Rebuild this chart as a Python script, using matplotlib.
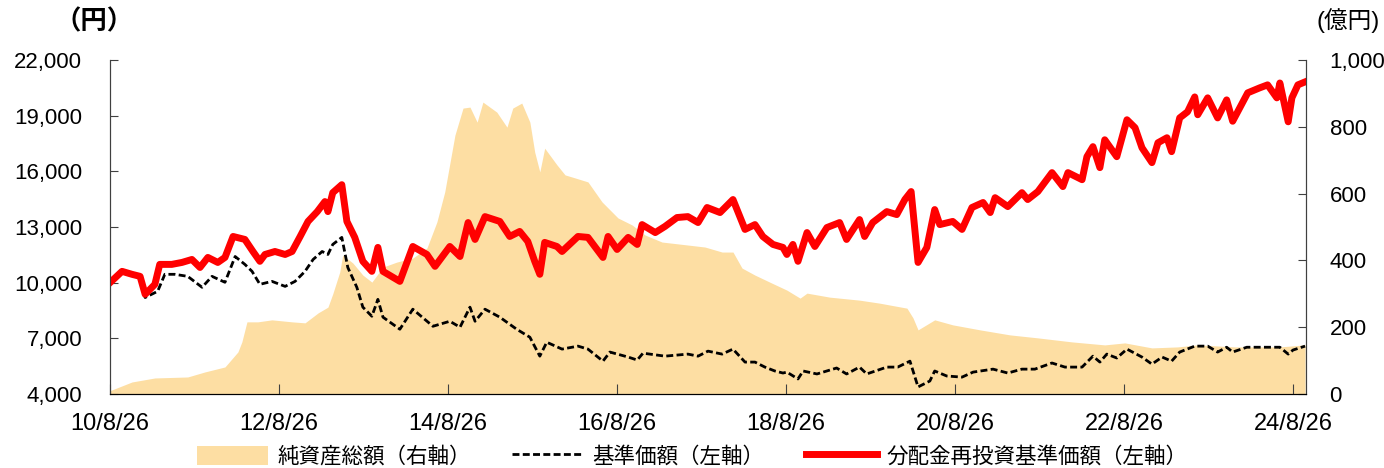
import numpy as np
import pandas as pd
import matplotlib
matplotlib.use("Agg")
import matplotlib.pyplot as plt
import matplotlib.dates as mdates
from matplotlib.patches import Patch
from matplotlib.lines import Line2D

plt.rcParams['font.family'] = ['Liberation Sans', 'Noto Sans CJK JP']

# 分配金再投資基準価額 (左軸, 円)
reinv_dates = [
    "2010-08-26", "2010-10-17", "2010-11-29", "2011-01-03", "2011-01-25", "2011-03-08",
    "2011-03-29", "2011-05-20", "2011-07-03", "2011-08-15", "2011-09-19", "2011-10-23",
    "2011-12-05", "2012-01-05", "2012-02-09", "2012-03-31", "2012-05-05", "2012-06-04",
    "2012-06-26", "2012-08-08", "2012-09-21", "2012-10-21", "2012-11-25", "2012-12-29",
    "2013-02-07", "2013-03-12", "2013-03-25", "2013-04-15", "2013-05-24", "2013-06-15",
    "2013-07-19", "2013-08-23", "2013-10-01", "2013-10-27", "2013-11-18", "2014-01-30",
    "2014-03-27", "2014-05-27", "2014-07-01", "2014-09-03", "2014-10-17", "2014-11-21",
    "2014-12-21", "2015-02-02", "2015-04-07", "2015-05-20", "2015-07-02", "2015-08-06",
    "2015-09-05", "2015-09-27", "2015-10-18", "2015-12-10", "2016-01-01", "2016-03-10",
    "2016-04-22", "2016-06-26", "2016-07-18", "2016-08-26", "2016-10-13", "2016-11-21",
    "2016-12-12", "2017-02-07", "2017-03-21", "2017-05-12", "2017-06-28", "2017-08-11",
    "2017-09-19", "2017-11-14", "2018-01-09", "2018-03-02", "2018-04-14", "2018-05-18",
    "2018-07-01", "2018-08-13", "2018-08-30", "2018-09-25", "2018-10-17", "2018-11-25",
    "2018-12-29", "2019-02-19", "2019-04-15", "2019-05-15", "2019-07-10", "2019-08-01",
    "2019-09-05", "2019-11-05", "2019-12-18", "2020-01-22", "2020-02-18", "2020-03-19",
    "2020-04-26", "2020-05-30", "2020-06-21", "2020-08-16", "2020-09-25", "2020-11-07",
    "2020-12-25", "2021-01-25", "2021-02-15", "2021-04-11", "2021-06-11", "2021-07-06",
    "2021-08-19", "2021-10-19", "2021-12-05", "2021-12-27", "2022-02-26", "2022-03-19",
    "2022-04-14", "2022-05-14", "2022-06-04", "2022-07-26", "2022-09-08", "2022-10-13",
    "2022-11-12", "2022-12-25", "2023-01-20", "2023-02-28", "2023-03-20", "2023-04-24",
    "2023-05-28", "2023-06-28", "2023-07-11", "2023-08-23", "2023-10-05", "2023-11-13",
    "2023-12-09", "2024-02-12", "2024-04-04", "2024-05-08", "2024-06-17", "2024-06-30",
    "2024-08-05", "2024-08-21", "2024-09-16", "2024-10-17",
]
reinv_nav = [
    10000, 10610, 10450, 10340, 9370, 9910,
    10985, 10985, 11090, 11250, 10820, 11360,
    11090, 11360, 12490, 12330, 11680, 11150,
    11520, 11680, 11520, 11680, 12490, 13300,
    13830, 14370, 13830, 14850, 15280, 13300,
    12440, 11150, 10610, 11900, 10610, 10070,
    11950, 11520, 10880, 11950, 11410, 13240,
    12330, 13560, 13300, 12490, 12760, 12220,
    11150, 10450, 12170, 11950, 11680, 12490,
    12440, 11360, 12490, 11790, 12440, 12060,
    13130, 12700, 13030, 13510, 13560, 13240,
    14050, 13780, 14480, 12870, 13130, 12490,
    12060, 11900, 11520, 12060, 11150, 12700,
    11950, 12970, 13240, 12330, 13400, 12490,
    13240, 13830, 13670, 14480, 14910, 11090,
    11900, 13940, 13130, 13300, 12870, 14050,
    14320, 13780, 14580, 14100, 14850, 14480,
    14910, 15930, 15180, 15930, 15550, 16790,
    17330, 16200, 17700, 16790, 18780, 18350,
    17270, 16470, 17540, 17810, 17060, 18880,
    19210, 20010, 19050, 19960, 18880, 19850,
    18700, 20230, 20500, 20660, 19960, 20760,
    18670, 19960, 20660, 20820,
]

# 基準価額 (左軸, 円)
nav_dates = [
    "2010-08-26", "2010-10-17", "2010-11-29", "2011-01-03", "2011-01-25", "2011-03-20",
    "2011-04-20", "2011-06-02", "2011-07-28", "2011-09-28", "2011-11-10", "2012-01-05",
    "2012-02-18", "2012-03-31", "2012-05-01", "2012-06-04", "2012-07-26", "2012-09-21",
    "2012-11-03", "2012-12-16", "2013-01-20", "2013-02-28", "2013-03-25", "2013-04-15",
    "2013-05-24", "2013-06-19", "2013-07-28", "2013-08-23", "2013-10-01", "2013-10-27",
    "2013-11-18", "2014-01-30", "2014-03-27", "2014-06-22", "2014-09-03", "2014-10-17",
    "2014-11-29", "2014-12-21", "2015-02-02", "2015-04-07", "2015-06-19", "2015-08-15",
    "2015-09-27", "2015-10-27", "2015-12-14", "2016-01-01", "2016-03-10", "2016-04-22",
    "2016-06-26", "2016-07-26", "2016-10-13", "2016-11-21", "2016-12-16", "2017-03-21",
    "2017-06-28", "2017-08-11", "2017-09-23", "2017-11-23", "2018-01-09", "2018-03-02",
    "2018-04-14", "2018-05-27", "2018-07-09", "2018-08-13", "2018-08-30", "2018-10-17",
    "2018-11-08", "2019-01-07", "2019-04-02", "2019-05-15", "2019-07-10", "2019-08-10",
    "2019-11-05", "2019-12-22", "2020-02-13", "2020-03-19", "2020-05-09", "2020-05-30",
    "2020-07-21", "2020-09-25", "2020-11-12", "2021-02-06", "2021-04-11", "2021-06-11",
    "2021-08-06", "2021-10-19", "2021-12-14", "2022-02-26", "2022-04-14", "2022-05-14",
    "2022-06-13", "2022-07-26", "2022-09-08", "2022-11-12", "2022-12-25", "2023-02-07",
    "2023-03-20", "2023-04-24", "2023-06-28", "2023-08-23", "2023-10-05", "2023-11-13",
    "2023-12-09", "2024-02-08", "2024-04-04", "2024-05-17", "2024-06-30", "2024-08-05",
    "2024-08-26", "2024-10-17",
]
nav = [
    10000, 10610, 10450, 10300, 9200, 9535,
    10450, 10450, 10340, 9750, 10340, 10020,
    11410, 10985, 10610, 9910, 10070, 9800,
    10070, 10610, 11250, 11680, 11520, 12060,
    12440, 10820, 9750, 8680, 8190, 9100,
    8140, 7490, 8570, 7650, 7920, 7600,
    8680, 7920, 8570, 8140, 7490, 7060,
    6040, 6790, 6520, 6420, 6580, 6420,
    5770, 6260, 5990, 5830, 6200, 6040,
    6150, 6040, 6310, 6150, 6420, 5720,
    5720, 5450, 5240, 5130, 5180, 4810,
    5240, 5080, 5400, 5080, 5450, 5080,
    5450, 5450, 5770, 4380, 4700, 5240,
    4970, 4910, 5180, 5340, 5130, 5340,
    5340, 5670, 5450, 5450, 6040, 5720,
    6150, 5940, 6420, 5990, 5610, 5990,
    5770, 6260, 6580, 6580, 6260, 6520,
    6260, 6520, 6520, 6520, 6520, 6150,
    6370, 6580,
]

# 純資産総額 (右軸, 億円)
aum_dates = [
    "2010-08-26", "2010-11-29", "2011-03-08", "2011-07-28", "2011-10-10", "2012-01-05",
    "2012-03-01", "2012-03-18", "2012-04-09", "2012-05-26", "2012-07-26", "2012-10-21",
    "2012-12-16", "2013-02-11", "2013-03-25", "2013-04-15", "2013-05-15", "2013-05-28",
    "2013-07-11", "2013-08-23", "2013-10-01", "2013-11-18", "2014-01-17", "2014-03-27",
    "2014-05-27", "2014-07-09", "2014-08-12", "2014-09-25", "2014-10-30", "2014-11-29",
    "2014-12-30", "2015-01-24", "2015-03-25", "2015-05-08", "2015-06-02", "2015-07-11",
    "2015-08-15", "2015-09-05", "2015-09-27", "2015-10-18", "2015-12-10", "2016-01-14",
    "2016-02-26", "2016-04-22", "2016-06-22", "2016-08-30", "2016-10-30", "2016-12-25",
    "2017-03-08", "2017-06-28", "2017-09-10", "2017-11-23", "2018-01-09", "2018-02-17",
    "2018-04-14", "2018-06-26", "2018-08-30", "2018-10-26", "2018-11-25", "2019-03-03",
    "2019-07-10", "2019-10-05", "2020-01-31", "2020-02-26", "2020-03-19", "2020-05-30",
    "2020-08-16", "2020-12-12", "2021-04-20", "2021-08-19", "2022-01-13", "2022-06-04",
    "2022-08-30", "2022-12-25", "2023-04-15", "2023-07-11", "2023-12-18", "2024-02-08",
    "2024-06-30", "2024-10-17",
]
aum = [
    10, 36, 48, 51, 66, 81,
    126, 156, 216, 216, 222, 216,
    213, 243, 260, 300, 365, 416,
    392, 356, 335, 380, 395, 407,
    437, 515, 605, 775, 856, 859,
    814, 874, 844, 799, 856, 871,
    814, 724, 665, 736, 686, 656,
    647, 635, 575, 527, 506, 476,
    455, 446, 440, 425, 425, 377,
    356, 332, 311, 287, 302, 290,
    281, 272, 257, 228, 192, 222,
    207, 192, 177, 168, 156, 147,
    153, 138, 141, 147, 141, 141,
    141, 147,
]

left_ticks = [4000, 7000, 10000, 13000, 16000, 19000, 22000]
right_ticks = [0, 200, 400, 600, 800, 1000]
x_ticks = ["2010-08-26", "2012-08-26", "2014-08-26", "2016-08-26",
           "2018-08-26", "2020-08-26", "2022-08-26", "2024-08-26"]

fig = plt.figure(figsize=(13.84, 4.68), dpi=100)
ax = fig.add_axes([110 / 1384, 1 - 394 / 468, 1196 / 1384, 334 / 468])
ax2 = ax.twinx()

area_color = '#FDDEA3'
ax2.fill_between(pd.to_datetime(aum_dates), 0, aum, color=area_color, lw=0)
ax2.set_ylim(0, 1000)
ax2.set_yticks(right_ticks)
ax2.set_yticklabels([f"{v:,}" for v in right_ticks])

ax.plot(pd.to_datetime(nav_dates), nav, color='black', lw=2.0, dashes=(2.5, 1.2))
ax.plot(pd.to_datetime(reinv_dates), reinv_nav, color='#FF0000', lw=5, solid_joinstyle='round')
ax.set_ylim(4000, 22000)
ax.set_yticks(left_ticks)
ax.set_yticklabels([f"{v:,}" for v in left_ticks])
ax.set_xlim(pd.Timestamp("2010-08-26"), pd.Timestamp("2024-10-21"))
ax.set_xticks(pd.to_datetime(x_ticks))
ax.xaxis.set_major_formatter(mdates.DateFormatter('%y/%-m/%d'))

ax.set_zorder(ax2.get_zorder() + 1)
ax.patch.set_visible(False)

for a in (ax, ax2):
    a.spines['top'].set_visible(False)
    a.spines['left'].set_color('#404040')
    a.spines['right'].set_color('#404040')
    a.spines['bottom'].set_color('black')
ax.tick_params(axis='y', direction='in', length=6, color='#404040', labelsize=16, pad=20)
ax.tick_params(axis='x', direction='in', length=7, color='#404040', labelsize=17, pad=14)
ax2.tick_params(axis='y', direction='in', length=6, color='#404040', labelsize=16, pad=17)

fig.text(94 / 1384, 1 - 22 / 468, "（円）", ha='center', va='center', fontsize=19,
         fontweight='bold', family=['Noto Sans CJK JP'])
fig.text(1316 / 1384, 1 - 21 / 468, "(億円)", ha='left', va='center', fontsize=17)

handles = [
    Patch(facecolor=area_color, edgecolor='none'),
    Line2D([], [], color='black', lw=2.0, dashes=(2.5, 1.2)),
    Line2D([], [], color='#FF0000', lw=5),
]
labels = ["純資産総額（右軸）", "基準価額（左軸）", "分配金再投資基準価額（左軸）"]
fig.legend(handles, labels, loc='center', bbox_to_anchor=(0.5, 0.024), ncol=3,
           frameon=False, fontsize=15.5, handlelength=3.3, handleheight=1.0,
           handletextpad=0.45, columnspacing=1.9, borderaxespad=0, borderpad=0,
           prop={'family': ['Noto Sans CJK JP'], 'size': 15.5})

fig.savefig("out.png", dpi=100)
